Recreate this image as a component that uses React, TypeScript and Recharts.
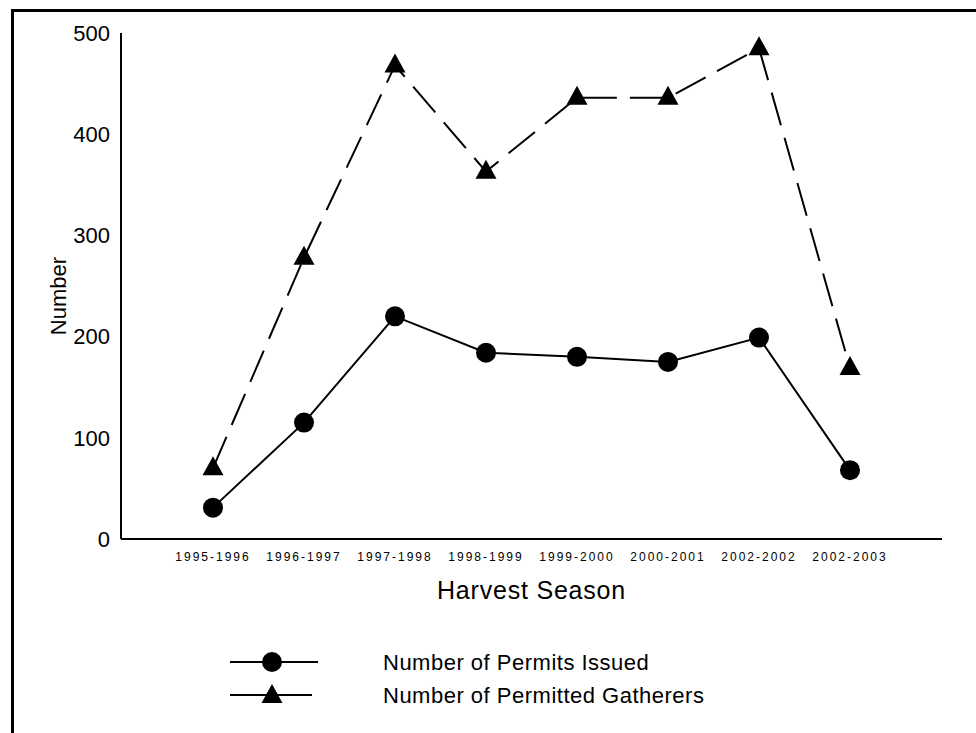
import React from "react";
import { LineChart, Line, XAxis, YAxis, Legend, Label } from "recharts";

const seasons = [
  "1995-1996",
  "1996-1997",
  "1997-1998",
  "1998-1999",
  "1999-2000",
  "2000-2001",
  "2002-2002",
  "2002-2003",
];
const permitsIssued = [31, 115, 220, 184, 180, 175, 199, 68];
const permittedGatherers = [70, 278, 468, 363, 436, 436, 485, 169];
const yTicks = [0, 100, 200, 300, 400, 500];

const seriesNames = {
  permits: "Number of Permits Issued",
  gatherers: "Number of Permitted Gatherers",
};

const data = seasons.map((s, i) => ({
  season: s,
  permits: permitsIssued[i],
  gatherers: permittedGatherers[i],
}));

const FONT = "'Liberation Sans', Arial, Helvetica, sans-serif";

const CircleDot = (props: any) => {
  const { cx, cy, index } = props;
  if (cx == null || cy == null) return null;
  return <circle key={`c-${index}`} cx={cx} cy={cy} r={10} fill="#000" stroke="none" />;
};

const TriangleDot = (props: any) => {
  const { cx, cy, index } = props;
  if (cx == null || cy == null) return null;
  const pts = `${cx},${cy - 12} ${cx - 10.5},${cy + 7} ${cx + 10.5},${cy + 7}`;
  return <polygon key={`t-${index}`} points={pts} fill="#000" stroke="none" />;
};

const renderLegend = () => (
  <svg width={976} height={93} style={{ display: "block" }}>
    <g>
      <line x1={230} y1={22} x2={318} y2={22} stroke="#000" strokeWidth={2} />
      <circle cx={272} cy={22} r={10} fill="#000" />
      <text x={383} y={30} fontFamily={FONT} fontSize={22} letterSpacing={0.5} fill="#000">
        {seriesNames.permits}
      </text>
    </g>
    <g>
      <line x1={230} y1={55} x2={312} y2={55} stroke="#000" strokeWidth={2} />
      <polygon points={`272,44 261.5,63 282.5,63`} fill="#000" />
      <text x={383} y={63} fontFamily={FONT} fontSize={22} letterSpacing={0.5} fill="#000">
        {seriesNames.gatherers}
      </text>
    </g>
  </svg>
);

export default function App() {
  return (
    <div
      style={{
        position: "absolute",
        left: 0,
        top: 0,
        width: 976,
        height: 733,
        background: "#fff",
        overflow: "hidden",
      }}
    >
      <div
        style={{
          position: "absolute",
          left: 11,
          top: 9,
          width: 976,
          height: 733,
          borderLeft: "3px solid #000",
          borderTop: "3px solid #000",
          boxSizing: "border-box",
        }}
      />
      <div style={{ position: "absolute", left: 0, top: 0 }}>
        <LineChart
          width={976}
          height={733}
          data={data}
          margin={{ top: 33, right: 34, bottom: 164, left: 61 }}
        >
          <XAxis
            dataKey="season"
            type="category"
            scale="point"
            padding={{ left: 92, right: 92 }}
            axisLine={{ stroke: "#000", strokeWidth: 2 }}
            tickLine={false}
            tickSize={6}
            tickMargin={7}
            interval={0}
            tick={{ fontSize: 12, fill: "#000", fontFamily: FONT, letterSpacing: 2 }}
            height={30}
          >
            <Label
              value="Harvest Season"
              position="bottom"
              offset={12}
              style={{ fontSize: 25, fill: "#000", fontFamily: FONT, letterSpacing: 0.8 }}
            />
          </XAxis>
          <YAxis
            type="number"
            domain={[0, 500]}
            ticks={yTicks}
            width={60}
            axisLine={{ stroke: "#000", strokeWidth: 2 }}
            tickLine={false}
            tickSize={6}
            tickMargin={5}
            tick={{ fontSize: 22, fill: "#000", fontFamily: FONT }}
          >
            <Label
              content={(props: any) => {
                const vb = props.viewBox || {};
                const x = (vb.x ?? 61) + 5;
                const y = (vb.y ?? 33) + (vb.height ?? 506) / 2 + 10;
                return (
                  <text
                    x={x}
                    y={y}
                    transform={`rotate(-90, ${x}, ${y})`}
                    textAnchor="middle"
                    fontFamily={FONT}
                    fontSize={22}
                    fill="#000"
                  >
                    Number
                  </text>
                );
              }}
            />
          </YAxis>
          <Legend
            layout="horizontal"
            verticalAlign="middle"
            align="center"
            content={renderLegend}
            wrapperStyle={{ top: 640, left: 0, width: 976, height: 93 }}
          />
          <Line
            type="linear"
            dataKey="gatherers"
            name={seriesNames.gatherers}
            stroke="#000"
            strokeWidth={2}
            strokeDasharray="34 13"
            dot={TriangleDot}
            activeDot={false}
            isAnimationActive={false}
          />
          <Line
            type="linear"
            dataKey="permits"
            name={seriesNames.permits}
            stroke="#000"
            strokeWidth={2}
            dot={CircleDot}
            activeDot={false}
            isAnimationActive={false}
          />
        </LineChart>
      </div>
    </div>
  );
}
